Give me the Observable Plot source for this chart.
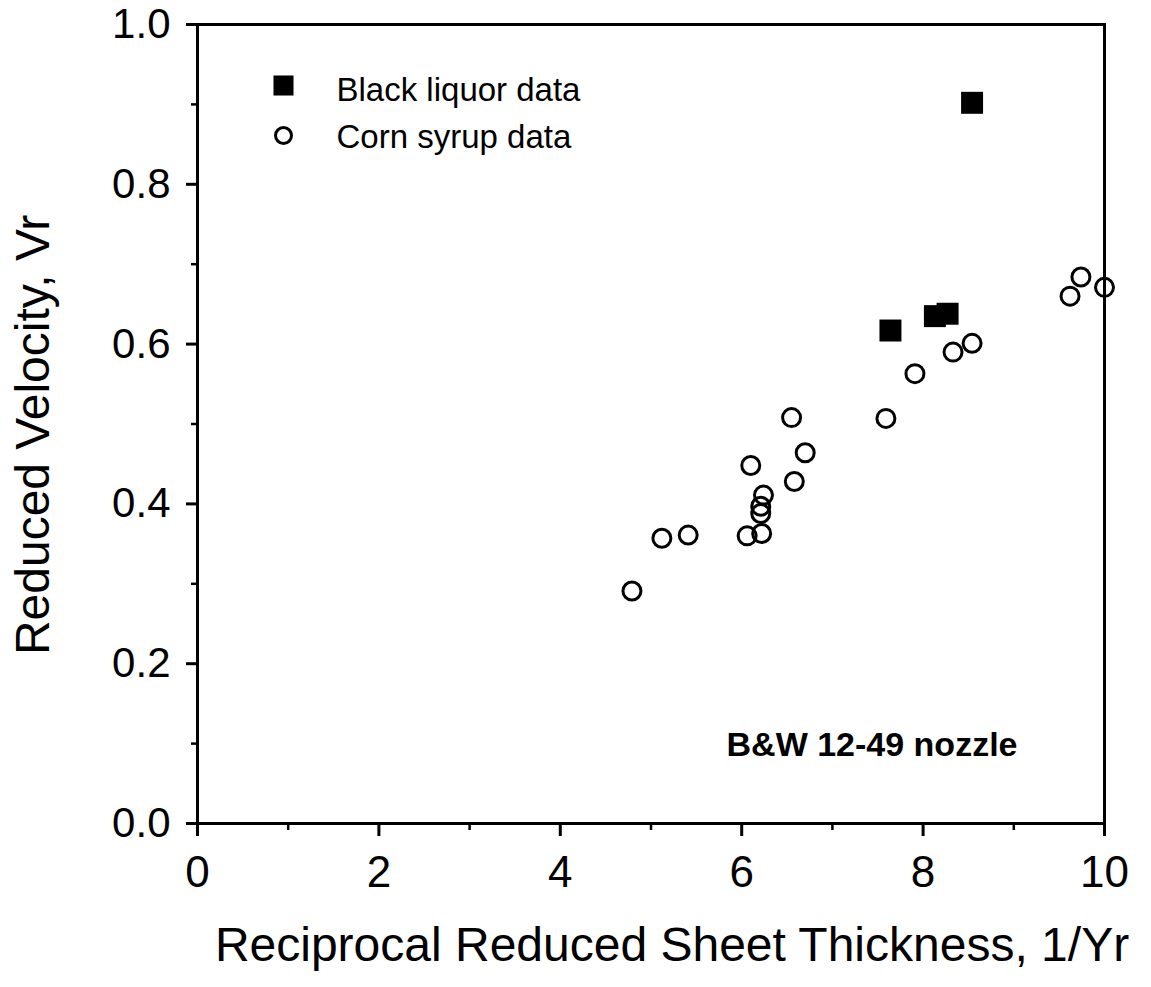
<!DOCTYPE html>
<html>
<head>
<meta charset="utf-8">
<script src="https://cdn.jsdelivr.net/npm/d3@7"></script>
<script src="https://cdn.jsdelivr.net/npm/@observablehq/plot@0.6"></script>
<style>
  body { margin: 0; background: #fff; }
  #chart svg { display: block; }
</style>
</head>
<body>
<div id="chart"></div>
<script>
// ---- Data ----
const blackX = [7.64, 8.13, 8.27, 8.54];
const blackY = [0.617, 0.635, 0.638, 0.902];

const cornX = [4.79, 5.12, 5.41, 6.06, 6.22, 6.21, 6.21, 6.24, 6.10, 6.58, 6.70, 6.55, 7.59, 7.91, 8.33, 8.54, 9.62, 9.74, 10.0];
const cornY = [0.291, 0.357, 0.361, 0.360, 0.363, 0.388, 0.397, 0.411, 0.448, 0.428, 0.464, 0.508, 0.507, 0.563, 0.590, 0.601, 0.660, 0.684, 0.671];

const xTicks = [0, 2, 4, 6, 8, 10];
const xMinorTicks = [1, 3, 5, 7, 9];
const yTicks = [0, 0.2, 0.4, 0.6, 0.8, 1.0];
const yMinorTicks = [0.1, 0.3, 0.5, 0.7, 0.9];

const legendLabels = ["Black liquor data", "Corn syrup data"];
const annotationText = "B&W 12-49 nozzle";
const xTitle = "Reciprocal Reduced Sheet Thickness, 1/Yr";
const yTitle = "Reduced Velocity, Vr";

// ---- Build tables ----
const black = blackX.map((x, i) => ({x, y: blackY[i]}));
const corn = cornX.map((x, i) => ({x, y: cornY[i]}));

const font = "'Liberation Sans', Arial, Helvetica, sans-serif";

const chart = Plot.plot({
  width: 1151,
  height: 987,
  marginLeft: 197,
  marginRight: 47,
  marginTop: 24,
  marginBottom: 164,
  style: {fontFamily: font, fontSize: "42px", color: "black", background: "white", overflow: "visible"},
  x: {domain: [0, 10]},
  y: {domain: [0, 1]},
  marks: [
    Plot.axisX({ticks: xTicks, tickSize: 13, tickPadding: 19, tickFormat: d => String(d), fontSize: 44, strokeWidth: 3, label: null}),
    Plot.axisX({ticks: xMinorTicks, tickSize: 7, text: null, strokeWidth: 2.5, label: null}),
    Plot.axisY({ticks: yTicks, tickSize: 11, tickPadding: 16, tickFormat: d3.format(".1f"), fontSize: 42, strokeWidth: 3, label: null}),
    Plot.axisY({ticks: yMinorTicks, tickSize: 6, text: null, strokeWidth: 2.5, label: null}),
    Plot.frame({stroke: "black", strokeWidth: 3}),
    Plot.dot(corn, {x: "x", y: "y", r: 9, stroke: "black", strokeWidth: 3, fill: "none"}),
    Plot.dot(black, {x: "x", y: "y", r: 12.4, symbol: "square", fill: "black", stroke: "none"}),
    // legend
    Plot.dot([legendLabels[0]], {frameAnchor: "top-left", dx: 86, dy: 61, r: 11.3, symbol: "square", fill: "black", stroke: "none"}),
    Plot.dot([legendLabels[1]], {frameAnchor: "top-left", dx: 86, dy: 111, r: 8, stroke: "black", strokeWidth: 3, fill: "none"}),
    Plot.text([legendLabels[0]], {text: d => d, frameAnchor: "top-left", dx: 139, dy: 66, textAnchor: "start", lineAnchor: "middle", fontSize: 33, fill: "black"}),
    Plot.text([legendLabels[1]], {text: d => d, frameAnchor: "top-left", dx: 139, dy: 113, textAnchor: "start", lineAnchor: "middle", fontSize: 33, fill: "black"}),
    // annotation
    Plot.text([annotationText], {text: d => d, frameAnchor: "bottom-right", dx: -87, dy: -78, textAnchor: "end", lineAnchor: "middle", fontSize: 34, fontWeight: "bold", fill: "black"}),
    // axis titles
    Plot.text([xTitle], {text: d => d, frameAnchor: "bottom", dx: 21, dy: 122, textAnchor: "middle", lineAnchor: "middle", fontSize: 48, fill: "black"}),
    Plot.text([yTitle], {text: d => d, frameAnchor: "left", dx: -164, dy: 11, rotate: -90, textAnchor: "middle", lineAnchor: "middle", fontSize: 48, fill: "black"})
  ]
});

document.getElementById("chart").appendChild(chart);
</script>
</body>
</html>
